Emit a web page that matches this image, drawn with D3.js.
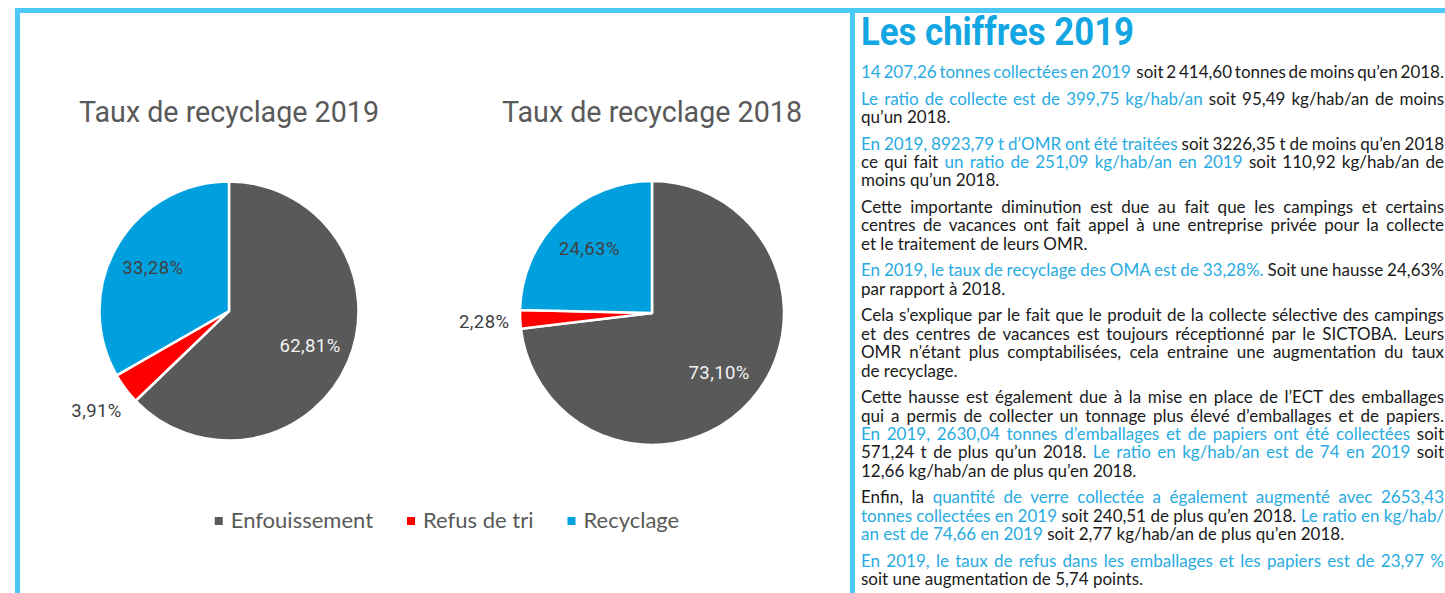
<!DOCTYPE html>
<html lang="fr">
<head>
<meta charset="utf-8">
<script src="https://cdn.jsdelivr.net/npm/d3@7"></script>
<style>
  body { margin: 0; background: #fff; }
  svg { display: block; }
</style>
</head>
<body>
<svg id="chart" width="1445" height="593"></svg>
<script>
// Données des deux camemberts
var categories = ["Enfouissement", "Refus de tri", "Recyclage"];
var valeurs2019 = [62.81, 3.91, 33.28];
var valeurs2018 = [73.10, 2.28, 24.63];
var couleurs = ["#595959", "#ff0000", "#00a0de"];
var titres = ["Taux de recyclage 2019", "Taux de recyclage 2018"];

// Texte du panneau de droite : chaque ligne = liste de [texte, bleu ?]
var titreChiffres = "Les chiffres 2019";
var paragraphes = [
  [
    [["14 207,26 tonnes collectées en 2019", 1], ["  soit 2 414,60 tonnes de moins qu’en 2018.", 0]]
  ],
  [
    [["Le ratio de collecte est de 399,75 kg/hab/an", 1], [" soit 95,49 kg/hab/an de moins", 0]],
    [["qu’un 2018.", 0]]
  ],
  [
    [["En 2019, 8923,79 t d’OMR ont été traitées", 1], [" soit 3226,35 t de moins qu’en 2018", 0]],
    [["ce qui fait ", 0], ["un ratio de 251,09 kg/hab/an en 2019", 1], [" soit 110,92 kg/hab/an de", 0]],
    [["moins qu’un 2018.", 0]]
  ],
  [
    [["Cette importante diminution est due au fait que les campings et certains", 0]],
    [["centres de vacances ont fait appel à une entreprise privée pour la collecte", 0]],
    [["et le traitement de leurs OMR.", 0]]
  ],
  [
    [["En 2019, le taux de recyclage des OMA est de 33,28%.", 1], [" Soit une hausse 24,63%", 0]],
    [["par rapport à 2018.", 0]]
  ],
  [
    [["Cela s’explique par le fait que le produit de la collecte sélective des campings", 0]],
    [["et des centres de vacances est toujours réceptionné par le SICTOBA. Leurs", 0]],
    [["OMR n’étant plus comptabilisées, cela entraine une augmentation du taux", 0]],
    [["de recyclage.", 0]]
  ],
  [
    [["Cette hausse est également due à la mise en place de l’ECT des emballages", 0]],
    [["qui a permis de collecter un tonnage plus élevé d’emballages et de papiers.", 0]],
    [["En 2019, 2630,04 tonnes d’emballages et de papiers ont été collectées", 1], [" soit", 0]],
    [["571,24 t de plus qu’un 2018. ", 0], ["Le ratio en kg/hab/an est de 74 en 2019", 1], [" soit", 0]],
    [["12,66 kg/hab/an de plus qu’en 2018.", 0]]
  ],
  [
    [["Enfin, la ", 0], ["quantité de verre collectée a également augmenté avec 2653,43", 1]],
    [["tonnes collectées en 2019", 1], [" soit 240,51 de plus qu’en 2018. ", 0], ["Le ratio en kg/hab/", 1]],
    [["an est de 74,66 en 2019", 1], [" soit 2,77 kg/hab/an de plus qu’en 2018.", 0]]
  ],
  [
    [["En 2019, le taux de refus dans les emballages et les papiers est de 23,97 %", 1]],
    [["soit une augmentation de 5,74 points.", 0]]
  ]
];

var svg = d3.select("#chart");

// Cadres bleus
var bordure = "#4bc8f5";
svg.append("rect").attr("x", 15).attr("y", 8).attr("width", 1430).attr("height", 5).attr("fill", bordure);
svg.append("rect").attr("x", 15).attr("y", 8).attr("width", 5).attr("height", 585).attr("fill", bordure);
svg.append("rect").attr("x", 850).attr("y", 8).attr("width", 5).attr("height", 585).attr("fill", bordure);

var fr = d3.formatLocale({decimal: ",", thousands: " ", grouping: [3], currency: ["", " €"]});
var fmt = fr.format(".2f");

var pie = d3.pie().sort(null).value(function(d) { return d.v; });

function camembert(valeurs, cx, cy, r, titre) {
    var data = categories.map(function(c, i) { return {cat: c, v: valeurs[i], i: i}; });
    var arcs = pie(data);
    var arc = d3.arc().innerRadius(0).outerRadius(r);
    var arcDedans = d3.arc().innerRadius(r * 0.68).outerRadius(r * 0.68);
    var arcDehors = d3.arc().innerRadius(r + 36).outerRadius(r + 36);

    svg.append("text")
      .attr("x", cx).attr("y", 122)
      .attr("text-anchor", "middle")
      .attr("font-family", "Roboto")
      .attr("font-size", 30)
      .attr("fill", "#595959")
      .attr("textLength", 300)
      .attr("lengthAdjust", "spacingAndGlyphs")
      .text(titre);

    var g = svg.append("g").attr("transform", "translate(" + cx + "," + cy + ")");

    g.selectAll("path")
      .data(arcs)
      .enter().append("path")
      .attr("d", arc)
      .attr("fill", function(d) { return couleurs[d.data.i]; })
      .attr("stroke", "#fff")
      .attr("stroke-width", 2.5)
      .attr("stroke-linejoin", "round");

    // petites parts : étiquette à l'extérieur
    g.selectAll("text")
      .data(arcs)
      .enter().append("text")
      .attr("transform", function(d) {
          var p = d.data.v < 5 ? arcDehors.centroid(d) : arcDedans.centroid(d);
          return "translate(" + p[0] + "," + p[1] + ")";
      })
      .attr("dy", "0.36em")
      .attr("text-anchor", "middle")
      .attr("font-family", "Roboto")
      .attr("font-size", 18.5)
      .attr("letter-spacing", 0.4)
      .attr("fill", function(d) { return d.data.i == 0 ? "#f2f2f2" : "#404040"; })
      .text(function(d) { return fmt(d.data.v) + "%"; });
}

camembert(valeurs2019, 229, 311, 129.5, titres[0]);
camembert(valeurs2018, 652, 313, 132, titres[1]);

// Légende commune
var legende = svg.append("g");
var x = 0;
categories.forEach(function(c, i) {
    legende.append("rect")
      .attr("x", x).attr("y", 517)
      .attr("width", 8).attr("height", 8)
      .attr("fill", couleurs[i]);
    var t = legende.append("text")
      .attr("x", x + 16).attr("y", 528)
      .attr("font-family", "Lato")
      .attr("font-size", 22)
      .attr("fill", "#595959")
      .text(c);
    x += 16 + t.node().getComputedTextLength() + 34;
});
var largeurLeg = x - 34;
legende.attr("transform", "translate(" + (447 - largeurLeg / 2) + ",0)");

// Panneau de droite
svg.append("text")
  .attr("x", 861).attr("y", 45)
  .attr("font-family", "Roboto")
  .attr("font-weight", "bold")
  .attr("font-size", 38)
  .attr("fill", "#12a6e3")
  .attr("textLength", 273)
  .attr("lengthAdjust", "spacingAndGlyphs")
  .text(titreChiffres);

var x0 = 861, largeur = 583;
var y = 78, interligne = 18.4, ecartPara = 26.6;
paragraphes.forEach(function(para, p) {
    para.forEach(function(ligne, l) {
        var t = svg.append("text")
          .attr("x", x0).attr("y", y)
          .attr("font-family", "Lato")
          .attr("font-size", 17)
          .style("white-space", "pre");
        t.selectAll("tspan")
          .data(ligne)
          .enter().append("tspan")
          .attr("fill", function(d) { return d[1] ? "#29abe2" : "#1a1a1a"; })
          .text(function(d) { return d[0]; });
        // justification sauf dernière ligne du paragraphe (et la 1re ligne pleine)
        var justifiee = l < para.length - 1 || p == 0;
        if (justifiee) {
            var naturel = t.node().getComputedTextLength();
            var nbEspaces = ligne.map(function(d) { return d[0]; }).join("").split(" ").length - 1;
            t.attr("word-spacing", (largeur - naturel) / nbEspaces);
        }
        if (l < para.length - 1) y += interligne;
    });
    y += ecartPara;
});
</script>
</body>
</html>
